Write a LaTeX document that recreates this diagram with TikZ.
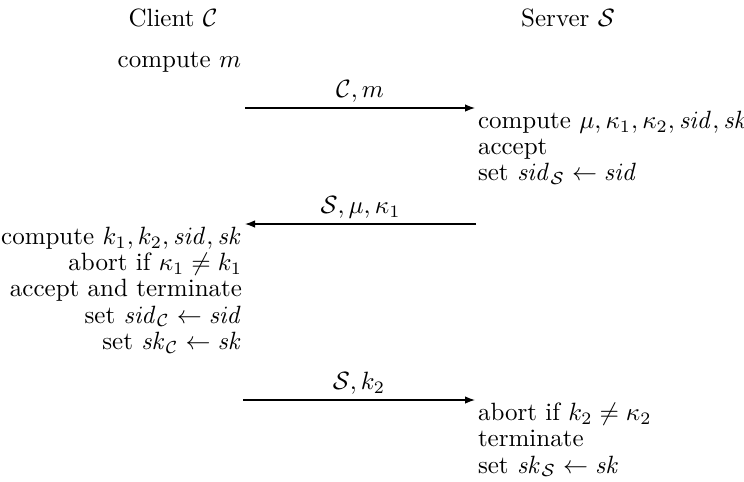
\documentclass[tikz,border=0pt]{standalone}
\usepackage{amsmath, amssymb}
\usepackage{tikz}
\usetikzlibrary{arrows.meta}

\begin{document}
\begin{tikzpicture}[x=0.4pt,y=-0.4pt,
  msg/.style={-{Latex[length=4pt,width=3pt]},line width=0.5pt},
  lbl/.style={above,inner sep=2pt},
  steps/.style={font=\fontsize{10pt}{10.5pt}\selectfont},
  every node/.style={inner sep=1pt}]
  \useasboundingbox (0,0) rectangle (744,481);
  % parties
  \node (client) at (173,18) {Client $\mathcal{C}$};
  \node (server) at (568,18) {Server $\mathcal{S}$};
  \node[anchor=east] (cm) at (244,62) {compute $m$};
  % first message
  \coordinate (a1) at (245,108);
  \node[steps,anchor=north west,align=left] (srv1) at (475,108)
    {compute $\mu,\kappa_1,\kappa_2,\mathit{sid},\mathit{sk}$\\accept\\set $\mathit{sid}_{\mathcal{S}}\leftarrow \mathit{sid}$};
  \draw[msg] (a1) -- (srv1.north west) node[midway,lbl]{$\mathcal{C},m$};
  % second message
  \coordinate (a2) at (476,224);
  \node[steps,anchor=north east,align=right] (cli1) at (245,224)
    {compute $k_1,k_2,\mathit{sid},\mathit{sk}$\\abort if $\kappa_1\neq k_1$\\accept and terminate\\set $\mathit{sid}_{\mathcal{C}}\leftarrow \mathit{sid}$\\set $\mathit{sk}_{\mathcal{C}}\leftarrow \mathit{sk}$};
  \draw[msg] (a2) -- (cli1.north east) node[midway,lbl]{$\mathcal{S},\mu,\kappa_1$};
  % third message
  \coordinate (a3) at (243,400);
  \node[steps,anchor=north west,align=left] (srv2) at (475,400)
    {abort if $k_2\neq\kappa_2$\\terminate\\set $\mathit{sk}_{\mathcal{S}}\leftarrow \mathit{sk}$};
  \draw[msg] (a3) -- (srv2.north west) node[midway,lbl]{$\mathcal{S},k_2$};
\end{tikzpicture}
\end{document}
